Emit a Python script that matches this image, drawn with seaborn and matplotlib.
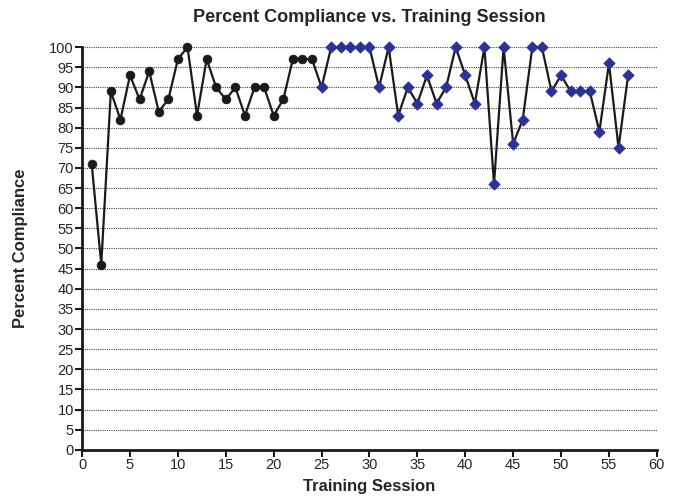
import matplotlib
matplotlib.use('Agg')
import matplotlib.pyplot as plt
import numpy as np
import pandas as pd
import seaborn as sns

# compliance per training session
sessions = list(range(1, 58))
compliance = [71, 46, 89, 82, 93, 87, 94, 84, 87, 97,
              100, 83, 97, 90, 87, 90, 83, 90, 90, 83,
              87, 97, 97, 97, 90, 100, 100, 100, 100, 100,
              90, 100, 83, 90, 86, 93, 86, 90, 100, 93,
              86, 100, 66, 100, 76, 82, 100, 100, 89, 93,
              89, 89, 89, 79, 96, 75, 93]
phase_split = 25  # sessions from 25 on are drawn as blue diamonds

df = pd.DataFrame({'Session': sessions, 'Compliance': compliance})
df['Phase'] = np.where(df['Session'] < phase_split, 'A', 'B')

sns.set_style('white')
plt.rcParams['font.family'] = ['Liberation Sans', 'DejaVu Sans']

fig, ax = plt.subplots(figsize=(6.73, 4.96), dpi=100)
fig.subplots_adjust(left=0.122, right=0.976, top=0.905, bottom=0.093)

# dotted grid
for v in range(5, 101, 5):
    ax.axhline(v, color='#444444', lw=0.8, ls=(0, (1, 1)), zorder=0)

sns.lineplot(data=df, x='Session', y='Compliance', color='#1a1a1a', lw=1.6,
             ax=ax, zorder=2, clip_on=False)
a = df[df['Phase'] == 'A']
b = df[df['Phase'] == 'B']
sns.scatterplot(data=a, x='Session', y='Compliance', color='#1a1a1a', marker='o',
                s=40, edgecolor='#1a1a1a', ax=ax, zorder=3, clip_on=False)
sns.scatterplot(data=b, x='Session', y='Compliance', color='#2b3296', marker='D',
                s=34, edgecolor='#2b3296', ax=ax, zorder=3, clip_on=False)

ax.set_xlim(0, 60)
ax.set_ylim(0, 100)
ax.set_xticks(range(0, 61, 5))
ax.set_yticks(range(0, 101, 5))
ax.tick_params(axis='both', direction='out', length=5, width=1.5, labelsize=10.5,
               pad=1, color='#1a1a1a', left=True, bottom=True)
for s in ['top', 'right']:
    ax.spines[s].set_visible(False)
for s in ['left', 'bottom']:
    ax.spines[s].set_linewidth(2)
    ax.spines[s].set_color('#1a1a1a')

ax.set_title('Percent Compliance vs. Training Session', fontsize=13, fontweight='bold', pad=18)
ax.set_xlabel('Training Session', fontsize=12, fontweight='bold', labelpad=5)
ax.set_ylabel('Percent Compliance', fontsize=12, fontweight='bold', labelpad=15)

fig.savefig('out.png', dpi=100)
